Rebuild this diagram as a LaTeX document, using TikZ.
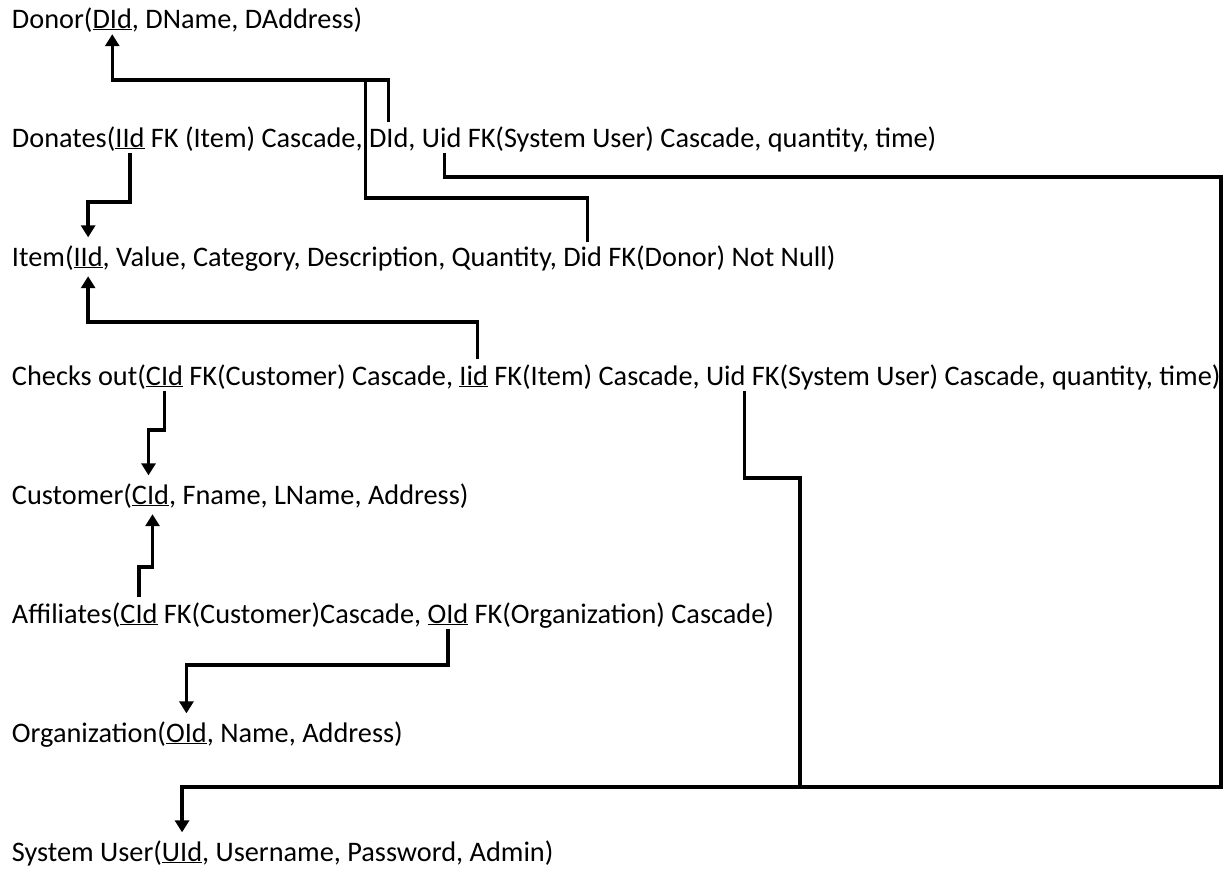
\documentclass[tikz,border=0pt]{standalone}
\usepackage{fontspec}
\setmainfont{Carlito}
\usetikzlibrary{arrows.meta}
\newcommand\wsp{\hbox{\ }}
\newcommand\pk[1]{\underline{#1}}
\begin{document}
\begin{tikzpicture}[x=1pt,y=-1pt,
  t/.style={inner sep=0pt,outer sep=0pt,anchor=base west,
            font=\fontsize{28.3}{32}\selectfont},
  link/.style={line width=3.5pt,line join=miter},
  fk/.style={link,-{Triangle[width=14pt,length=12pt]}}]
\useasboundingbox (0,0) rectangle (1224,871);

% ---- relations, one line each ----
\node[t] (r1a) at (12,28) {Donor(};
\node[t] (r1k) at (r1a.base east) {\pk{DId}};
\node[t] (r1b) at (r1k.base east) {, DName, DAddress)};

\node[t] (r2a) at (12,147) {Donates(};
\node[t] (r2iid) at (r2a.base east) {\pk{IId}};
\node[t] (r2b) at (r2iid.base east) {\wsp FK (Item) Cascade,\wsp};
\node[t] (r2did) at (r2b.base east) {DId};
\node[t] (r2c) at (r2did.base east) {,\wsp};
\node[t] (r2uid) at (r2c.base east) {Uid};
\node[t] (r2d) at (r2uid.base east) {\wsp FK(System User) Cascade, quantity, time)};

\node[t] (r3a) at (12,266) {Item(};
\node[t] (r3iid) at (r3a.base east) {\pk{IId}};
\node[t] (r3b) at (r3iid.base east) {, Value, Category, Description, Quantity,\wsp};
\node[t] (r3did) at (r3b.base east) {Did};
\node[t] (r3c) at (r3did.base east) {\wsp FK(Donor) Not Null)};

\node[t] (r4a) at (12,385) {Checks out(};
\node[t] (r4cid) at (r4a.base east) {\pk{CId}};
\node[t] (r4b) at (r4cid.base east) {\wsp FK(Customer) Cascade,\wsp};
\node[t] (r4iid) at (r4b.base east) {\pk{Iid}};
\node[t] (r4c) at (r4iid.base east) {\wsp FK(Item) Cascade,\wsp};
\node[t] (r4uid) at (r4c.base east) {Uid};
\node[t] (r4d) at (r4uid.base east) {\wsp FK(System User) Cascade, quantity, time)};

\node[t] (r5a) at (12,504) {Customer(};
\node[t] (r5cid) at (r5a.base east) {\pk{CId}};
\node[t] (r5b) at (r5cid.base east) {, Fname, LName, Address)};

\node[t] (r6a) at (12,623) {Affiliates(};
\node[t] (r6cid) at (r6a.base east) {\pk{CId}};
\node[t] (r6b) at (r6cid.base east) {\wsp FK(Customer)Cascade,\wsp};
\node[t] (r6oid) at (r6b.base east) {\pk{OId}};
\node[t] (r6c) at (r6oid.base east) {\wsp FK(Organization) Cascade)};

\node[t] (r7a) at (12,742) {Organization(};
\node[t] (r7oid) at (r7a.base east) {\pk{OId}};
\node[t] (r7b) at (r7oid.base east) {, Name, Address)};

\node[t] (r8a) at (12,861) {System User(};
\node[t] (r8uid) at (r8a.base east) {\pk{UId}};
\node[t] (r8b) at (r8uid.base east) {, Username, Password, Admin)};

% ---- routing levels ----
\coordinate (hDonor) at (0,80);
\coordinate (hUid)   at (0,177);
\coordinate (hDid)   at (0,198);
\coordinate (hIid)   at (0,202);
\coordinate (hItem)  at (0,322);
\coordinate (hCid)   at (0,430);
\coordinate (hCo)    at (0,478);
\coordinate (hAff)   at (0,567);
\coordinate (hOrg)   at (0,665);
\coordinate (hSys)   at (0,787);
\coordinate (vEast)  at (1221,0);
\coordinate (vPass)  at ([xshift=-3.5pt]r2b.east);

% ---- foreign keys ----
% Donates.DId -> Donor.DId
\coordinate (sA) at ([yshift=5pt]r2did.north);
\draw[fk] (sA) -- (sA |- hDonor) -| ([yshift=-4pt]r1k.south);
% Item.Did -> joins the Donor link
\coordinate (sB) at ([xshift=5pt,yshift=4pt]r3did.north);
\draw[link] (sB) -- (sB |- hDid) -- (vPass |- hDid) -- (vPass |- hDonor);
% Donates.IId -> Item.IId
\coordinate (sC) at ([yshift=-4pt]r2iid.south);
\draw[fk] (sC) -- (sC |- hIid) -| ([yshift=9pt]r3iid.north);
% Checks out.Iid -> Item.IId
\coordinate (sD) at ([xshift=4pt,yshift=6pt]r4iid.north);
\draw[fk] (sD) -- (sD |- hItem) -| ([yshift=-8pt]r3iid.south);
% Donates.Uid -> System User.UId
\coordinate (sE) at ([xshift=3pt,yshift=-6pt]r2uid.south);
\draw[fk] (sE) -- (sE |- hUid) -- (vEast |- hUid) -- (vEast |- hSys)
  -| ([yshift=9pt]r8uid.north);
% Checks out.Uid joins the System User link
\coordinate (sF) at ([xshift=-1pt,yshift=-6pt]r4uid.south east);
\coordinate (vJoin) at (800,0);
\draw[link] (sF) -- (sF |- hCo) -- (vJoin |- hCo) -- (vJoin |- hSys);
% Checks out.CId -> Customer.CId
\coordinate (sG) at ([yshift=-4pt]r4cid.south);
\draw[fk] (sG) -- (sG |- hCid) -| ([xshift=-2pt,yshift=9pt]r5cid.north);
% Affiliates.CId -> Customer.CId
\coordinate (sH) at ([yshift=6pt]r6cid.north);
\draw[fk] (sH) -- (sH |- hAff) -| ([xshift=2pt,yshift=-8pt]r5cid.south);
% Affiliates.OId -> Organization.OId
\coordinate (sI) at ([yshift=-4pt]r6oid.south);
\draw[fk] (sI) -- (sI |- hOrg) -| ([yshift=9pt]r7oid.north);
\end{tikzpicture}
\end{document}
